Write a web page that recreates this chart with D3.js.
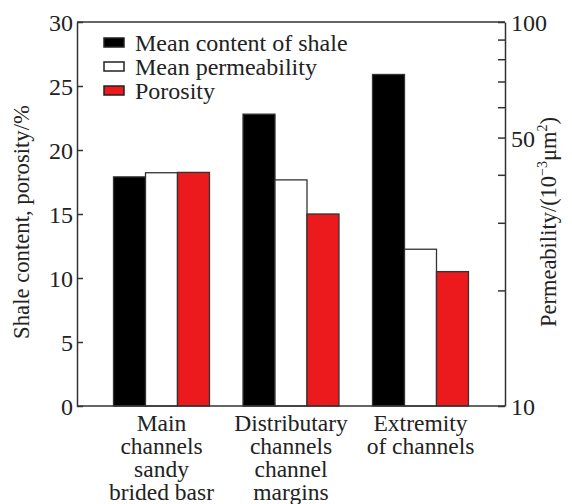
<!DOCTYPE html>
<html><head><meta charset="utf-8">
<script src="https://cdn.jsdelivr.net/npm/d3@7"></script>
<style>body{margin:0;background:#fff}svg{display:block}text{font-family:"Liberation Serif","Times New Roman",serif;fill:#222}</style>
</head><body><svg id="c" width="572" height="504"></svg>
<script>
const categories = [["Main","channels","sandy","brided basr"],["Distributary","channels","channel","margins"],["Extremity","of channels"]];
const shale = [17.9, 22.8, 25.9];
const permeability = [40.5, 38.8, 25.6];
const porosity = [18.25, 15.0, 10.5];
const leftTicks = [0,5,10,15,20,25,30];
const rightTicks = [10,20,30,40,50,60,70,80,90,100];
const rightLabels = [10,50,100];
const legendItems = [["Mean content of shale","#000"],["Mean permeability","#fff"],["Porosity","#ec1a1c"]];

const svg = d3.select("#c");
const L=77,R=505,T=22,B=406;
const x = d3.scaleBand().domain(d3.range(3)).range([L,R]).paddingInner(0.259).paddingOuter(0.282);
const yL = d3.scaleLinear().domain([0,30]).range([B,T]);
const yR = d3.scaleLog().domain([10,100]).range([B,T]);
const bw = x.bandwidth()/3;
const axisCol="#333";

const g = svg.append("g");
const series=[{v:shale,s:yL,base:0,fill:"#000"},{v:permeability,s:yR,base:10,fill:"#fff"},{v:porosity,s:yL,base:0,fill:"#ec1a1c"}];
series.forEach((se,k)=>{
  g.selectAll(null).data(se.v).enter().append("rect")
   .attr("x",(d,i)=>x(i)+k*bw).attr("width",bw)
   .attr("y",d=>se.s(d)).attr("height",d=>se.s(se.base)-se.s(d))
   .attr("fill",se.fill).attr("stroke","#333").attr("stroke-width",1.3);
});
svg.append("line").attr("x1",L).attr("x2",R).attr("y1",T).attr("y2",T).attr("stroke",axisCol).attr("stroke-width",1.5);
svg.append("line").attr("x1",L).attr("x2",R).attr("y1",B).attr("y2",B).attr("stroke",axisCol).attr("stroke-width",1.5);
const la = svg.append("g").attr("transform",`translate(${L},0)`)
  .call(d3.axisLeft(yL).tickValues(leftTicks).tickSizeInner(-6).tickSizeOuter(0));
la.select(".domain").attr("stroke",axisCol).attr("stroke-width",1.5);
la.selectAll(".tick line").attr("stroke",axisCol).attr("stroke-width",1.5);
la.selectAll(".tick text").attr("font-size",24).attr("font-family","Liberation Serif").attr("fill","#222").attr("dy","0.35em").attr("x",-4);
const ra = svg.append("g").attr("transform",`translate(${R},0)`)
  .call(d3.axisRight(yR).tickValues(rightTicks).tickFormat(d=>rightLabels.includes(d)?d:"").tickSizeInner(-7).tickSizeOuter(0));
ra.select(".domain").attr("stroke",axisCol).attr("stroke-width",1.5);
ra.selectAll(".tick line").attr("stroke",axisCol).attr("stroke-width",1.5);
ra.selectAll(".tick text").attr("font-size",24).attr("font-family","Liberation Serif").attr("fill","#222").attr("x",6).attr("dy","0.35em");
categories.forEach((lines,i)=>{
  const cx=x(i)+x.bandwidth()/2;
  const t=svg.append("text").attr("text-anchor","middle").attr("font-size",23.5);
  lines.forEach((ln,j)=>t.append("tspan").attr("x",cx).attr("y",431+j*23).text(ln));
});
legendItems.forEach((it,i)=>{
  const yy=38+i*24;
  svg.append("rect").attr("x",104).attr("y",yy).attr("width",20).attr("height",9).attr("fill",it[1]).attr("stroke","#222").attr("stroke-width",1.5);
  svg.append("text").attr("x",135).attr("y",yy+4.5).attr("dy","0.35em").attr("font-size",24).text(it[0]);
});
svg.append("text").attr("transform","translate(29,222) rotate(-90)").attr("text-anchor","middle").attr("font-size",22.7).text("Shale content, porosity/%");
const rt=svg.append("text").attr("transform","translate(556,222) rotate(-90)").attr("text-anchor","middle").attr("font-size",22.5);
rt.append("tspan").text("Permeability/(10");
rt.append("tspan").attr("font-size",14).attr("dy",-9).text("−3");
rt.append("tspan").attr("dy",9).text("μm");
rt.append("tspan").attr("font-size",14).attr("dy",-9).text("2");
rt.append("tspan").attr("dy",9).text(")");
</script></body></html>
